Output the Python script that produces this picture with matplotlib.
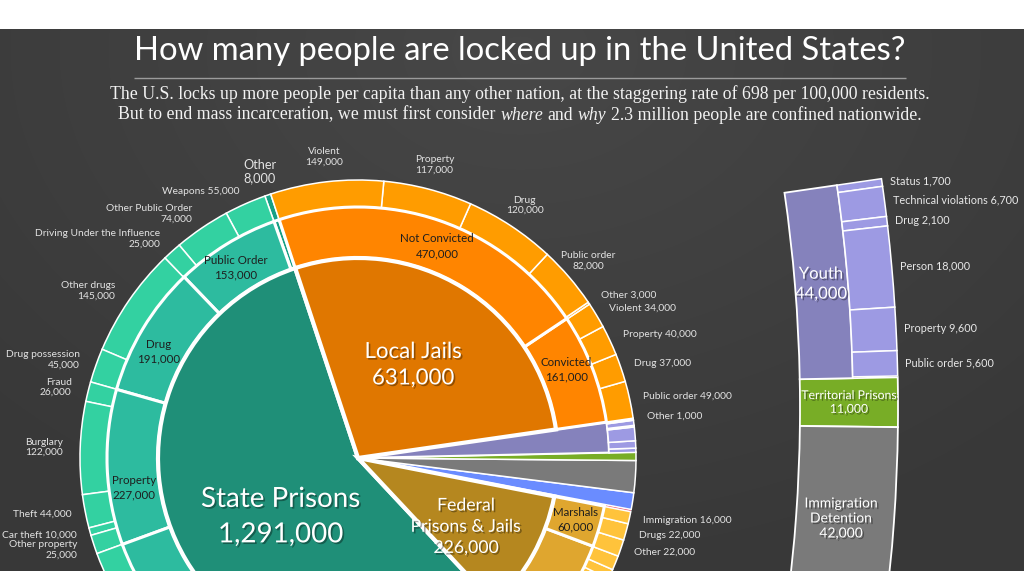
import numpy as np
import matplotlib.pyplot as plt
from matplotlib import patheffects as pe

plt.rcParams["font.family"] = ["Lato", "DejaVu Sans"]

# ---- data: people confined in the U.S. ----
# top level, counterclockwise from the State Prisons / Local Jails border
groups = ["State Prisons", "Federal Prisons & Jails", "Indian Country",
          "Psychiatric", "Immigration Detention", "Territorial Prisons",
          "Youth", "Local Jails"]
group_vals = [1291000, 226000, 2500, 22000, 42000, 11000, 44000, 631000]

state_mid = ["Other", "Public Order", "Drug", "Property", "Violent"]
state_mid_vals = [8000, 153000, 191000, 227000, 712000]
fed_mid = ["Convicted", "Marshals"]
fed_mid_vals = [166000, 60000]
jail_mid = ["Convicted", "Not Convicted"]
jail_mid_vals = [161000, 470000]

state_leaf = ["Other", "Weapons", "Other Public Order",
              "Driving Under the Influence", "Other drugs", "Drug possession",
              "Fraud", "Burglary", "Theft", "Car theft", "Other property",
              "Murder", "Manslaughter", "Rape/sexual assault", "Robbery",
              "Assault", "Other violent"]
state_leaf_vals = [8000, 55000, 74000, 25000, 145000, 45000, 26000, 122000,
                   44000, 10000, 25000, 166000, 19000, 161000, 173000,
                   139000, 54000]
fed_leaf = ["Drug", "Weapons", "Sex offenses", "Immigration", "Violent",
            "Other", "Other", "Drugs", "Immigration"]
fed_leaf_vals = [81000, 26000, 15000, 12000, 13000, 19000, 22000, 22000, 16000]
youth_leaf = ["Public order", "Property", "Person", "Drug",
              "Technical violations", "Status"]
youth_leaf_vals = [5600, 9600, 18000, 2100, 6700, 1700]
jail_leaf = ["Other", "Public order", "Drug", "Property", "Violent",
             "Other", "Public order", "Drug", "Property", "Violent"]
jail_leaf_vals = [1000, 49000, 37000, 40000, 34000,
                  3000, 82000, 120000, 117000, 149000]

# how each outer label is written: "two" lines, "one" line, "big", or none
state_leaf_style = ["big", "one", "two", "two", "two", "two", "two", "two",
                    "one", "one", "two", "", "", "", "", "", ""]
fed_leaf_style = ["", "", "", "", "", "", "one", "one", "one"]
jail_leaf_style = ["one"] * 6 + ["two"] * 4

# ---- colours ----
TEAL_IN, TEAL_MID, TEAL_OUT, TEAL_DARK = "#1f8f78", "#2dbb9f", "#33d1a1", "#17a085"
ORG_IN, ORG_MID, ORG_OUT = "#e07700", "#ff8500", "#ff9c00"
GOLD_IN, GOLD_MID, GOLD_OUT = "#b5871f", "#dfa62f", "#ffc33b"
PURPLE, LAVENDER = "#8582bc", "#9d9ae3"
group_colors = [TEAL_IN, GOLD_IN, "#f24d6b", "#6a8cff", "#7a7a7a", "#78ad26",
                PURPLE, ORG_IN]

W, H = 1024, 571
fig = plt.figure(figsize=(W / 100, H / 100), dpi=100, facecolor="white")
ax = fig.add_axes([0, 0, 1, 1])

# chalkboard background
yy, xx = np.mgrid[0:542, 0:1024]
d = np.hypot(xx - 520, (yy - 520) * 1.4)
shade = 0.28 - 0.06 * np.clip(d / 750, 0, 1)
ax.imshow(np.dstack([shade] * 3), extent=(0, 1024, 0, 542), origin="lower",
          zorder=0, interpolation="bilinear")

C = (358, H - 458)
R_IN, R_MID, R_OUT = 200, 251, 278
START = 108.3
small = {"Indian Country", "Psychiatric", "Immigration Detention",
         "Territorial Prisons"}


def polar(center, r, deg):
    t = np.radians(deg)
    return center[0] + r * np.cos(t), center[1] + r * np.sin(t)


def mid_angles(vals):
    v = np.asarray(vals, float)
    e = np.concatenate([[0], np.cumsum(v)]) / v.sum() * 360
    return START + (e[:-1] + e[1:]) / 2


def ring(parts):
    names, vals, cols, show, styles = [], [], [], [], []
    for g, v in zip(groups, group_vals):
        if g in parts:
            n, vv, c, s = parts[g]
            names += n
            vals += vv
            cols += c
            show += [True] * len(n)
            styles += s
        else:
            names.append(g)
            vals.append(v)
            cols.append("none")
            show.append(False)
            styles.append("")
    return names, vals, cols, show, styles


def draw_ring(vals, cols, show, radius, width, lw):
    wedges, _ = ax.pie(vals, radius=radius, center=C, startangle=START,
                       colors=cols, wedgeprops=dict(width=width, edgecolor="white",
                                                    linewidth=lw))
    for wd, s in zip(wedges, show):
        wd.set_visible(s)


# small facilities run the full radius
w, _ = ax.pie(group_vals, radius=R_OUT, center=C, startangle=START,
              colors=group_colors, wedgeprops=dict(edgecolor="white", linewidth=1.1))
for wd, g in zip(w, groups):
    wd.set_visible(g in small)
    if g == "Indian Country":
        wd.set_linewidth(0.3)
# youth reaches the outer ring
w, _ = ax.pie(group_vals, radius=R_MID, center=C, startangle=START,
              colors=group_colors, wedgeprops=dict(edgecolor="white", linewidth=1.5))
for wd, g in zip(w, groups):
    wd.set_visible(g == "Youth")

# outer ring
o_names, o_vals, o_cols, o_show, o_style = ring({
    "State Prisons": (state_leaf, state_leaf_vals,
                      [TEAL_DARK] + [TEAL_OUT] * (len(state_leaf) - 1), state_leaf_style),
    "Federal Prisons & Jails": (fed_leaf, fed_leaf_vals, [GOLD_OUT] * len(fed_leaf),
                                fed_leaf_style),
    "Youth": (youth_leaf, youth_leaf_vals, [LAVENDER] * len(youth_leaf),
              [""] * len(youth_leaf)),
    "Local Jails": (jail_leaf, jail_leaf_vals, [ORG_OUT] * len(jail_leaf),
                    jail_leaf_style),
})
draw_ring(o_vals, o_cols, o_show, R_OUT, R_OUT - R_MID, 1.1)

# middle ring
m_names, m_vals, m_cols, m_show, m_style = ring({
    "State Prisons": (state_mid, state_mid_vals, [TEAL_DARK] + [TEAL_MID] * 4,
                      [""] + ["lab"] * 4),
    "Federal Prisons & Jails": (fed_mid, fed_mid_vals, [GOLD_MID] * 2, ["lab"] * 2),
    "Local Jails": (jail_mid, jail_mid_vals, [ORG_MID] * 2, ["lab"] * 2),
})
draw_ring(m_vals, m_cols, m_show, R_MID, R_MID - R_IN, 2.2)

# inner pie
w, _ = ax.pie(group_vals, radius=R_IN, center=C, startangle=START,
              colors=group_colors, wedgeprops=dict(edgecolor="white", linewidth=3))
for wd, g in zip(w, groups):
    wd.set_visible(g not in small and g != "Youth")

shadow = [pe.withSimplePatchShadow(offset=(1.2, -1.2), shadow_rgbFace="black", alpha=0.35)]

# inner labels: (radius, angle shift, font size, line spacing)
inner_lab = {"State Prisons": (97, 6.5, 20, 1.45), "Local Jails": (108, 1, 16, 1.4),
             "Federal Prisons & Jails": (128, -3.5, 12.7, 1.4)}
for g, v, a in zip(groups, group_vals, mid_angles(group_vals)):
    if g in inner_lab:
        r, da, fs, ls = inner_lab[g]
        name = "Federal\nPrisons & Jails" if g.startswith("Federal") else g
        x, y = polar(C, r, a + da)
        ax.text(x, y, f"{name}\n{v:,}", ha="center", va="center", color="white",
                fontsize=fs, linespacing=ls, path_effects=shadow, zorder=5)

# middle labels
mid_shift = {"Public Order": 1, "Drug": 3, "Property": 5.5, "Not Convicted": -1.5,
             "Convicted": 2}
for n, v, a, s in zip(m_names, m_vals, mid_angles(m_vals), m_style):
    if not s:
        continue
    x, y = polar(C, 226, a + mid_shift.get(n, 0) * (1 if a > 0 else 0))
    if y < -5:
        continue
    ax.text(x, y, f"{n}\n{v:,}", ha="center", va="center", color="#1e1e1e",
            fontsize=8.3, linespacing=1.4, zorder=5)

# outer labels
for n, v, a, s in zip(o_names, o_vals, mid_angles(o_vals), o_style):
    if not s:
        continue
    cs = np.cos(np.radians(a))
    if s == "one":
        x, y = polar(C, 292, a)
        ax.text(x, y, f"{n} {v:,}", ha="left" if cs > 0 else "right", va="center",
                color="#e3e3e3", fontsize=7.4, zorder=5)
    else:
        fs = 9.2 if s == "big" else 7.4
        if cs < -0.4:
            x, y = polar(C, 295, a)
            ha = "right"
        else:
            x, y = polar(C, 303, a)
            ha = "center"
        ax.text(x, y, f"{n}\n{v:,}", ha=ha, va="center", multialignment=ha,
                color="#e3e3e3", fontsize=fs, linespacing=1.15, zorder=5)

# ---- magnified column for the smaller facilities ----
gv = dict(zip(groups, group_vals))
CC = (-700, H - 408)
RC_IN, RC_MID, RC_OUT = 1500, 1553, 1598
COL_START = 8.25
DEG = 0.1625 / 1000  # degrees per person
col_groups = ["Youth", "Territorial Prisons", "Immigration Detention"]
col_vals = [gv[g] for g in col_groups]
col_cols = [group_colors[groups.index(g)] for g in col_groups]
col_leaf = youth_leaf[::-1]
col_leaf_vals = youth_leaf_vals[::-1]

w, _ = ax.pie([v * DEG / 360 for v in col_vals], normalize=False, radius=RC_OUT,
              center=CC, startangle=COL_START, counterclock=False, colors=col_cols,
              wedgeprops=dict(width=RC_OUT - RC_IN, edgecolor="white", linewidth=1.3))
w[0].set_visible(False)
ax.pie([col_vals[0] * DEG / 360], normalize=False, radius=RC_MID, center=CC,
       startangle=COL_START, counterclock=False, colors=[PURPLE],
       wedgeprops=dict(width=RC_MID - RC_IN, edgecolor="white", linewidth=1.3))
ax.pie([v * DEG / 360 for v in col_leaf_vals], normalize=False, radius=RC_OUT,
       center=CC, startangle=COL_START, counterclock=False, colors=[LAVENDER],
       wedgeprops=dict(width=RC_OUT - RC_MID, edgecolor="white", linewidth=1.1))

cum = np.concatenate([[0], np.cumsum(col_vals)])
col_mid = COL_START - DEG * (cum[:-1] + cum[1:]) / 2
col_text = [("Youth\n44,000", 12, RC_IN + 26),
            ("Territorial Prisons\n11,000", 8.8, RC_IN + 49),
            ("Immigration\nDetention\n42,000", 10, RC_IN + 45)]
for (txt, fs, r), a, v in zip(col_text, col_mid, col_vals):
    x, y = polar(CC, r, a)
    ax.text(x, y, txt, ha="center", va="center", color="white", fontsize=fs,
            linespacing=1.3, path_effects=shadow, zorder=5)

cum = np.concatenate([[0], np.cumsum(col_leaf_vals)])
leaf_mid = COL_START - DEG * (cum[:-1] + cum[1:]) / 2
for n, v, a in zip(col_leaf, col_leaf_vals, leaf_mid):
    x, y = polar(CC, RC_OUT + 8, a)
    ax.text(x, y, f"{n} {v:,}", ha="left", va="center", color="#e8e8e8",
            fontsize=7.8, zorder=5)

# ---- title and subtitle ----
renderer = fig.canvas.get_renderer()


def width_of(t):
    return t.get_window_extent(renderer).width


title = ax.text(520, H - 51, "How many people are locked up in the United States?",
                ha="center", va="center", color="white", fontsize=22)
title.set_fontsize(22 * 770 / width_of(title))
ax.hlines(H - 78, 134, 906, color="#9b9b9b", linewidth=1)

serif = "Liberation Serif"
sub1 = ax.text(520, H - 94, "The U.S. locks up more people per capita than any other "
               "nation, at the staggering rate of 698 per 100,000 residents.",
               ha="center", va="center", color="#f2f2f2", fontsize=12, family=serif)
fs_sub = 12 * 817 / width_of(sub1)
sub1.set_fontsize(fs_sub)

parts = [("But to end mass incarceration, we must first consider", "normal"),
         ("where", "italic"), ("and", "normal"), ("why", "italic"),
         ("2.3 million people are confined nationwide.", "normal")]
probe_a = ax.text(0, 0, "x x", fontsize=fs_sub, family=serif)
probe_b = ax.text(0, 0, "xx", fontsize=fs_sub, family=serif)
space = width_of(probe_a) - width_of(probe_b)
probe_a.remove()
probe_b.remove()
pieces = [ax.text(0, H - 115, s, ha="left", va="center", color="#f2f2f2",
                  fontsize=fs_sub, family=serif, style=st) for s, st in parts]
widths = [width_of(p) for p in pieces]
x0 = 520 - (sum(widths) + space * (len(widths) - 1)) / 2
for p, wd in zip(pieces, widths):
    p.set_x(x0)
    x0 += wd + space

ax.set_xlim(0, W)
ax.set_ylim(0, H)
ax.axis("off")
fig.savefig("out.png", dpi=100, facecolor="white")
